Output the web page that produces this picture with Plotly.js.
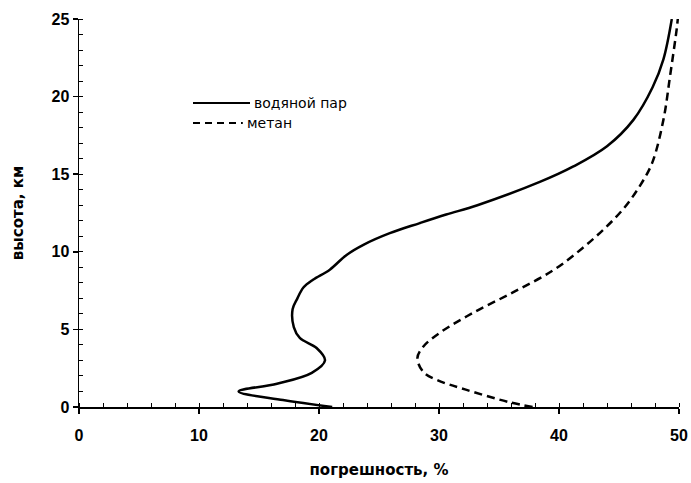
<!DOCTYPE html>
<html>
<head>
<meta charset="utf-8">
<script src="https://cdn.plot.ly/plotly-3.0.1.min.js"></script>
<style>html,body{margin:0;padding:0;background:#fff;}#chart{width:691px;height:483px;}</style>
</head>
<body>
<div id="chart"></div>
<script>
// водяной пар (solid)
const vaporError = [21.1, 17.0, 13.3, 16.5, 19.4, 20.5, 19.8, 18.4, 17.9, 17.8, 18.2, 18.7, 19.5, 20.9, 22.3, 23.7, 25.9, 28.4, 30.6, 33.2, 38.4, 41.2, 44.0, 46.2, 47.8, 48.7, 49.4];
const vaporHeight = [0, 0.45, 1.0, 1.5, 2.2, 3.0, 3.8, 4.45, 5.15, 6.3, 7.0, 7.7, 8.2, 8.85, 9.8, 10.45, 11.2, 11.85, 12.4, 13.0, 14.5, 15.5, 16.8, 18.5, 20.6, 22.4, 25];
// метан (dashed)
const methaneError = [37.8, 35.9, 32.3, 29.8, 28.7, 28.2, 28.7, 30.1, 32.8, 36.2, 39.5, 41.9, 43.8, 45.4, 46.7, 47.75, 48.7, 49.25, 49.8, 49.9];
const methaneHeight = [0, 0.3, 1.1, 1.75, 2.25, 3.15, 3.9, 4.8, 6.05, 7.4, 8.8, 10.2, 11.5, 12.8, 14.2, 15.7, 18.5, 21.3, 24.3, 25];
const seriesNames = ["водяной пар", "метан"];
const xTicks = [0, 10, 20, 30, 40, 50];
const yTicks = [0, 5, 10, 15, 20, 25];

const traces = [
  {x: vaporError, y: vaporHeight, name: seriesNames[0], mode: "lines", type: "scatter", showlegend: false,
   line: {color: "#000", width: 2.5, shape: "spline", smoothing: 1}, cliponaxis: false},
  {x: methaneError, y: methaneHeight, name: seriesNames[1], mode: "lines", type: "scatter", showlegend: false,
   line: {color: "#000", width: 2.5, dash: "8px,5px", shape: "spline", smoothing: 1}, cliponaxis: false}
];

const legFont = {family: "DejaVu Sans", size: 14, color: "#000"};
const layout = {
  width: 691, height: 483,
  margin: {l: 79, r: 12, t: 19, b: 76},
  paper_bgcolor: "#fff", plot_bgcolor: "#fff",
  showlegend: false,
  shapes: [
    {type: "line", xref: "paper", yref: "paper", x0: 0.19, x1: 0.285, y0: 0.7835, y1: 0.7835,
     line: {color: "#000", width: 2}},
    {type: "line", xref: "paper", yref: "paper", x0: 0.19, x1: 0.273, y0: 0.732, y1: 0.732,
     line: {color: "#000", width: 2, dash: "7px,5px"}}
  ],
  annotations: [
    {xref: "paper", yref: "paper", x: 0.288, y: 0.7835, xanchor: "left", yanchor: "middle",
     text: seriesNames[0], showarrow: false, font: legFont},
    {xref: "paper", yref: "paper", x: 0.277, y: 0.732, xanchor: "left", yanchor: "middle",
     text: seriesNames[1], showarrow: false, font: legFont}
  ],
  xaxis: {range: [0, 50], tickvals: xTicks, showgrid: false, zeroline: false,
          showline: true, linecolor: "#000", linewidth: 1.5,
          ticks: "outside", ticklen: 5, tickwidth: 1.5, tickcolor: "#000", ticklabelstandoff: 8,
          minor: {dtick: 2, ticks: "inside", ticklen: 4, tickwidth: 1, tickcolor: "#000", showgrid: false},
          tickfont: {family: "Liberation Sans", size: 16, color: "#000", weight: "bold"},
          title: {text: "погрешность, %", standoff: 22,
                  font: {family: "DejaVu Sans", size: 15, color: "#000", weight: "bold"}}},
  yaxis: {range: [0, 25], tickvals: yTicks, showgrid: false, zeroline: false,
          showline: true, linecolor: "#000", linewidth: 1.5,
          ticks: "outside", ticklen: 5, tickwidth: 1.5, tickcolor: "#000",
          minor: {dtick: 1, ticks: "inside", ticklen: 4, tickwidth: 1, tickcolor: "#000", showgrid: false},
          tickfont: {family: "Liberation Sans", size: 16, color: "#000", weight: "bold"},
          title: {text: "высота, км", standoff: 24,
                  font: {family: "DejaVu Sans", size: 15, color: "#000", weight: "bold"}}}
};

Plotly.newPlot("chart", traces, layout, {displayModeBar: false, staticPlot: true});
</script>
</body>
</html>
